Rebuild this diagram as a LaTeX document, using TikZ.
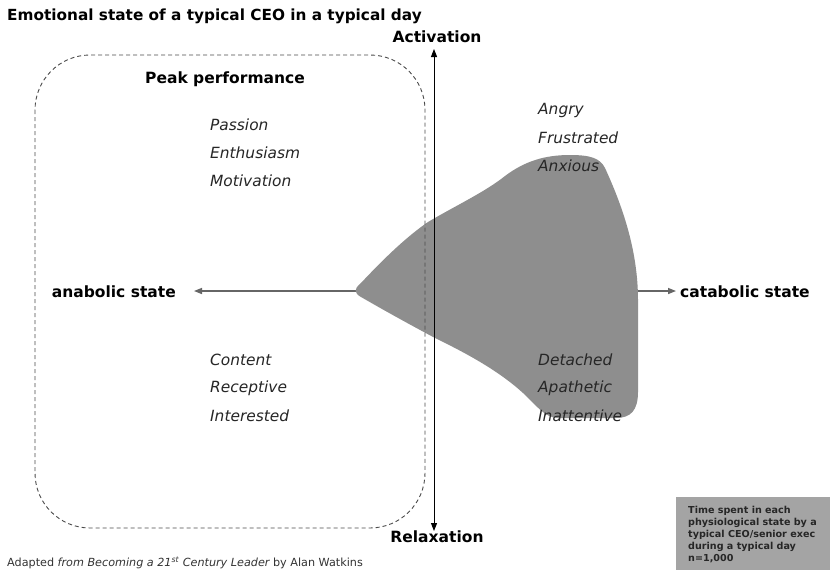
\documentclass[tikz,border=0pt]{standalone}
\usepackage{fontspec}
\setmainfont{DejaVu Sans}
\usetikzlibrary{arrows.meta}
\definecolor{blobgray}{HTML}{8E8E8E}
\definecolor{boxgray}{HTML}{A4A4A4}
\definecolor{dashgray}{HTML}{4A4A4A}
\begin{document}
\begin{tikzpicture}[x=1pt,y=-1pt,
  axis/.style={line width=1pt,-{Triangle[length=8pt,width=6pt]}},
  haxis/.style={line width=1.4pt,draw=black!60,-{Triangle[length=8pt,width=6pt]}},
  boldlabel/.style={font=\bfseries\fontsize{15.5}{17}\selectfont,inner sep=0pt},
  mood/.style={font=\itshape\fontsize{15.4}{17}\selectfont,anchor=west,inner sep=0pt,text=black!85},
  zone/.style={draw=dashgray,line width=0.9pt,dash pattern=on 4pt off 3pt,rounded corners=55pt}]
\useasboundingbox (0,0) rectangle (830,573);
\fill[white] (0,0) rectangle (830,573);

% title
\node[anchor=west,inner sep=0pt,font=\bfseries\fontsize{15.3}{17}\selectfont] (title) at (7,16) {Emotional state of a typical CEO in a typical day};

% axis end points
\coordinate (L) at (194,291);
\coordinate (R) at (676,291);
\coordinate (T) at (434,49);
\coordinate (B) at (434,531);
\coordinate (O) at (434,291);

% horizontal axis (behind the shaded region)
\draw[haxis] (O) -- (L);
\draw[haxis] (O) -- (R);

% shaded region of time spent
\fill[blobgray] (360,284)
  .. controls (378,265) and (402,240) .. (428,222)
  .. controls (455,206) and (485,192) .. (505,176)
  .. controls (525,161) and (545,155) .. (570,155)
  .. controls (590,155) and (600,158) .. (605,168)
  .. controls (622,205) and (638,250) .. (638,300)
  -- (638,392)
  .. controls (638,410) and (631,418) .. (616,418)
  -- (558,418)
  .. controls (545,418) and (536,405) .. (523,393)
  .. controls (500,372) and (470,355) .. (435,338)
  .. controls (405,322) and (380,308) .. (361,297)
  .. controls (354,293) and (354,289) .. (360,284) -- cycle;

% peak performance zone
\draw[zone] (35,55) rectangle (425,528);

% vertical axis
\draw[axis] (O) -- (T);
\draw[axis] (O) -- (B);

% axis labels
\node[boldlabel,anchor=south] (act) at (437,43) {Activation};
\node[boldlabel,anchor=north] (rel) at (437,531) {Relaxation};
\node[boldlabel,anchor=east] (ana) at (176,292) {anabolic state};
\node[boldlabel,anchor=west] (cat) at (680,292) {catabolic state};
\node[boldlabel,anchor=west] (peak) at (145,79) {Peak performance};

% emotional states
\node[mood] (passion) at (210,125) {Passion};
\node[mood] (enth) at (210,153) {Enthusiasm};
\node[mood] (motiv) at (210,181) {Motivation};
\node[mood] (angry) at (538,110) {Angry};
\node[mood] (frus) at (538,138) {Frustrated};
\node[mood] (anx) at (538,166) {Anxious};
\node[mood] (content) at (210,360) {Content};
\node[mood] (recep) at (210,388) {Receptive};
\node[mood] (inter) at (210,416) {Interested};
\node[mood] (det) at (538,360) {Detached};
\node[mood] (apa) at (538,388) {Apathetic};
\node[mood] (inat) at (538,416) {Inattentive};

% legend box
\fill[boxgray] (676,497) rectangle (830,570);
\node[anchor=north west,inner sep=0pt,align=left,text=black!85,
  font=\bfseries\fontsize{9.6}{12}\selectfont] (legend) at (688,506)
  {Time spent in each\\physiological state by a\\typical CEO/senior exec\\during a typical day\\n=1,000};

% source
\node[anchor=west,inner sep=0pt,font=\fontsize{11.2}{13}\selectfont,text=black!80] (src) at (7,563)
  {Adapted {\itshape from Becoming a 21\textsuperscript{st} Century Leader} by Alan Watkins};
\end{tikzpicture}
\end{document}
